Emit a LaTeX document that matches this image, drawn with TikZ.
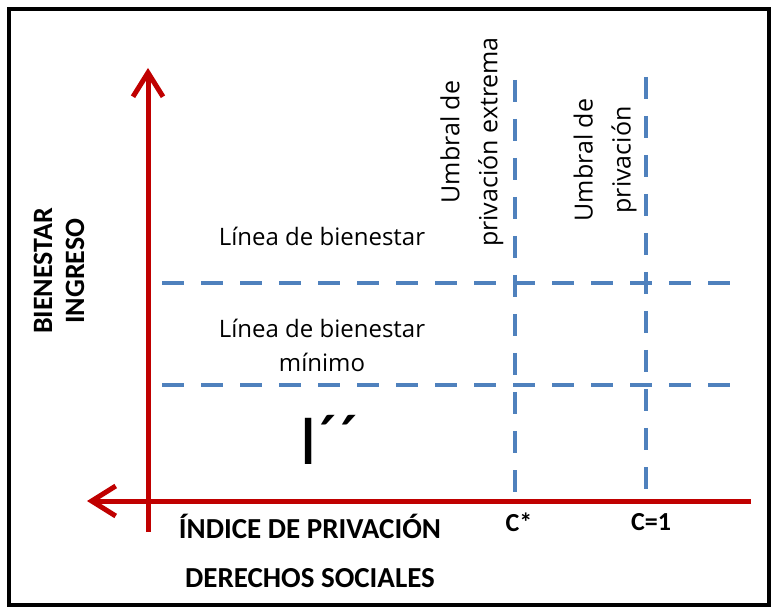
\documentclass[tikz,border=0pt]{standalone}
\usepackage{fontspec}
\setmainfont{Carlito}
\newfontfamily\segoe{Open Sans}
\usetikzlibrary{arrows.meta}
\definecolor{axisred}{RGB}{192,0,0}
\definecolor{dashblue}{RGB}{79,129,189}
\begin{document}
\begin{tikzpicture}[x=1pt,y=-1pt,
  axisline/.style={draw=axisred,line width=5pt,-{Straight Barb[length=24pt,width=30pt]}},
  dashline/.style={draw=dashblue,line width=4pt,dash pattern=on 22pt off 17pt},
  lbl/.style={inner sep=0pt,align=center,text=black,font=\segoe\fontsize{24}{34}\selectfont},
  vlbl/.style={inner sep=0pt,align=center,text=black,rotate=90,font=\segoe\fontsize{25}{38}\selectfont},
  blbl/.style={inner sep=0pt,align=center,text=black,font=\bfseries\fontsize{29}{49}\selectfont},
  frame/.style={draw=black,line width=3.5pt}]
\useasboundingbox (0,0) rectangle (777,612);
\draw[frame] (9,9) rectangle (769,605);
% axes
\coordinate (ybot) at (148,532);
\coordinate (ytop) at (148,68);
\coordinate (xright) at (751,501);
\coordinate (xleft) at (87,501);
\draw[axisline] (ybot) -- (ytop);
\draw[axisline] (xright) -- (xleft);
% dashed lines
\coordinate (h1a) at (162,283); \coordinate (h1b) at (734,283);
\coordinate (h2a) at (162,385); \coordinate (h2b) at (734,385);
\coordinate (v1a) at (515,80); \coordinate (v1b) at (515,493);
\coordinate (v2a) at (646,77); \coordinate (v2b) at (646,491);
\draw[dashline] (h1a) -- (h1b);
\draw[dashline] (h2a) -- (h2b);
\draw[dashline] (v1a) -- (v1b);
\draw[dashline] (v2a) -- (v2b);
% labels
\node[lbl] (lb) at (322,236) {Línea de bienestar};
\node[lbl] (lbm) at (322,345) {Línea de bienestar\\mínimo};
\node[inner sep=0pt,font=\fontsize{72}{72}\selectfont] (ipp) at (330,440) {I´´};
\node[vlbl] (ue) at (472,142) {Umbral de\\privación extrema};
\node[vlbl] (up) at (605,160) {Umbral de\\privación};
\node[blbl,rotate=90,font=\bfseries\fontsize{28}{32}\selectfont] (bi) at (59,271) {BIENESTAR\\INGRESO};
\node[blbl] (idx) at (310,551) {ÍNDICE DE PRIVACIÓN\\DERECHOS SOCIALES};
\node[blbl,font=\bfseries\fontsize{26}{30}\selectfont] (cs) at (519,522) {C*};
\node[blbl,font=\bfseries\fontsize{26}{30}\selectfont] (c1) at (651,522) {C=1};
\end{tikzpicture}
\end{document}
